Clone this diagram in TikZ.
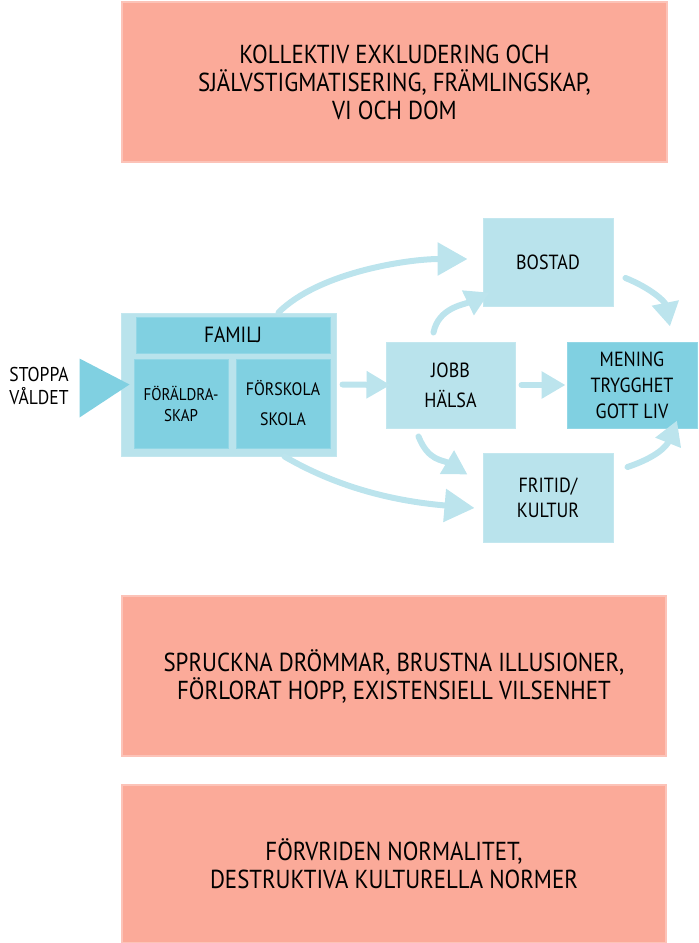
\documentclass[tikz,border=0pt]{standalone}
\usepackage{fontspec}
\setmainfont{PT Sans}[FakeStretch=0.88]
\usetikzlibrary{arrows.meta}
\definecolor{cPink}{HTML}{FBAA99}
\definecolor{cLight}{HTML}{B9E3EC}
\definecolor{cDark}{HTML}{80D0E1}
\definecolor{cArrow}{HTML}{BCE4ED}
\begin{document}
\begin{tikzpicture}[x=1pt,y=-1pt,
  pinkbox/.style={fill=cPink, draw=cPink!70!white, line width=1.2pt, align=center,
    inner sep=0pt, font=\fontsize{26}{28}\selectfont},
  lightbox/.style={fill=cLight, draw=cLight!85!white, line width=1pt, align=center,
    inner sep=0pt, font=\fontsize{20.5}{30}\selectfont},
  darkbox/.style={fill=cDark, draw=cDark!85!white, line width=1pt, align=center,
    inner sep=0pt, font=\fontsize{20.5}{26}\selectfont},
  flow/.style={draw=cArrow, line width=6pt, line cap=round,
    -{Triangle[length=24pt,width=26pt]}},
  bigflow/.style={draw=cArrow, line width=6pt, line cap=round,
    -{Triangle[length=30pt,width=32pt]}},
]
\useasboundingbox (0,0) rectangle (699,943);

% pink boxes
\node[pinkbox, minimum width=545pt, minimum height=160pt] (excl) at (394.5,82)
  {KOLLEKTIV EXKLUDERING OCH\\SJÄLVSTIGMATISERING, FRÄMLINGSKAP,\\VI OCH DOM};
\node[pinkbox, minimum width=544pt, minimum height=160pt] (dreams) at (394,676)
  {SPRUCKNA DRÖMMAR, BRUSTNA ILLUSIONER,\\FÖRLORAT HOPP, EXISTENSIELL VILSENHET};
\node[pinkbox, minimum width=544pt, minimum height=158pt] (norms) at (394,864)
  {FÖRVRIDEN NORMALITET,\\DESTRUKTIVA KULTURELLA NORMER};

% family container
\node[lightbox, minimum width=215pt, minimum height=143pt] (familj) at (228.5,384.5) {};
\node[darkbox, minimum width=194pt, minimum height=36pt, font=\fontsize{22}{24}\selectfont] (famlabel) at (233,335) {FAMILJ};
\node[darkbox, minimum width=94pt, minimum height=89pt, font=\fontsize{17}{21}\selectfont] (foraldra) at (181,403.5) {FÖRÄLDRA-\\SKAP};
\node[darkbox, minimum width=94pt, minimum height=89pt, font=\fontsize{18}{30}\selectfont] (forskola) at (283,403.5) {FÖRSKOLA\\SKOLA};

% other boxes
\node[lightbox, minimum width=129pt, minimum height=86pt] (jobb) at (450.5,385) {JOBB\\HÄLSA};
\node[lightbox, minimum width=130pt, minimum height=88pt] (bostad) at (548,262) {BOSTAD};
\node[darkbox, minimum width=130pt, minimum height=86pt] (mening) at (632,385) {MENING\\TRYGGHET\\GOTT LIV};
\node[lightbox, minimum width=130pt, minimum height=89pt, font=\fontsize{20.5}{25}\selectfont] (fritid) at (548,497.5) {FRITID/\\KULTUR};

% stop label and triangle
\node[align=center, font=\fontsize{20}{23}\selectfont, inner sep=0pt] (stoppa) at (39,386) {STOPPA\\VÅLDET};
\fill[cDark] ([xshift=-41pt,yshift=26pt]familj.west) -- ([xshift=9pt]familj.west)
  -- ([xshift=-41pt,yshift=-33pt]familj.west) -- cycle;

% connectors
\draw[bigflow] ([xshift=50pt]familj.north) .. controls +(40,-40) and +(-60,0) ..
  ([xshift=-15pt,yshift=3pt]bostad.west);
\draw[bigflow] ([xshift=56pt]familj.south) .. controls +(60,35) and +(-70,-6) ..
  ([xshift=-8pt,yshift=-10.5pt]fritid.west);
\draw[flow] ([xshift=6pt]familj.east) -- ([xshift=5pt]jobb.west);
\draw[flow] ([xshift=6pt]jobb.east) -- ([xshift=-1pt]mening.west);
\draw[flow] ([xshift=-17pt,yshift=9pt]jobb.north) .. controls +(5,-25) and +(-25,12) ..
  ([xshift=7pt,yshift=14pt]bostad.south west);
\draw[flow] ([xshift=-32pt,yshift=-8pt]jobb.south) .. controls +(10,25) and +(-25,-15) ..
  ([xshift=-15pt,yshift=-22pt]fritid.north west);
\draw[flow] ([xshift=12pt,yshift=-16pt]bostad.east) .. controls +(25,10) and +(-5,-25) ..
  ([xshift=38pt,yshift=15pt]mening.north);
\draw[flow] ([xshift=14pt,yshift=30.5pt]fritid.east) .. controls +(30,-10) and +(-10,25) ..
  ([xshift=45pt,yshift=8pt]mening.south);
\end{tikzpicture}
\end{document}
